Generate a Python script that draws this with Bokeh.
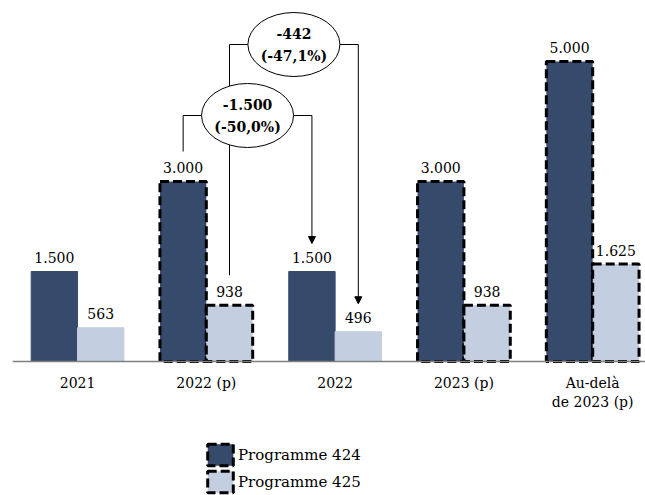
from bokeh.plotting import figure
from bokeh.models import (ColumnDataSource, Range1d, Legend, LegendItem, Arrow,
                          NormalHead, FixedTicker)
from bokeh.core.properties import value
from bokeh.embed import file_html
from bokeh.resources import INLINE

# ---------------- data ----------------
categories = ["2021", "2022 (p)", "2022", "2023 (p)", "Au-delà\nde 2023 (p)"]
prog424 = [1500, 3000, 1500, 3000, 5000]
prog425 = [563, 938, 496, 938, 1625]
dashed = [False, True, False, True, True]
series_names = ["Programme 424", "Programme 425"]

DARK = "#364A6C"
LIGHT = "#C4CEE1"
FONT = "DejaVu Serif"

def fmt(v):
    return f"{v:,}".replace(",", ".")

PX_Y = 0.06          # px per unit on y
OFF = 0.18           # half offset of bars
BW = 0.36            # bar width

p = figure(width=645, height=495, output_backend="svg", toolbar_location=None,
           x_range=Range1d(-0.505, 4.41),
           y_range=Range1d(-134 / PX_Y, 353 / PX_Y),
           min_border_left=12, min_border_right=0, min_border_top=8,
           min_border_bottom=0)
p.outline_line_color = None
p.grid.visible = False
p.yaxis.visible = False
p.background_fill_color = "white"

idx = list(range(len(categories)))

def src(vals, shift, keep):
    xs = [i + shift for i in idx if keep(i)]
    ys = [vals[i] for i in idx if keep(i)]
    return ColumnDataSource(dict(x=xs, top=ys))

renderers = {}
for vals, shift, col, name in [(prog424, -OFF, DARK, series_names[0]),
                               (prog425, OFF, LIGHT, series_names[1])]:
    s_solid = src(vals, shift, lambda i: not dashed[i])
    s_dash = src(vals, shift, lambda i: dashed[i])
    p.vbar(x="x", top="top", bottom=0, width=BW, source=s_solid,
           fill_color=col, line_color=col, line_width=1)
    r = p.vbar(x="x", top="top", bottom=0, width=BW, source=s_dash,
               fill_color=col, line_color="black", line_width=3,
               line_dash="9 4")
    renderers[name] = r
    allsrc = ColumnDataSource(dict(x=[i + shift for i in idx], top=vals,
                                   lab=[fmt(v) for v in vals]))
    p.text(x="x", y="top", text="lab", source=allsrc, text_align="center",
           text_baseline="middle", y_offset=-14, text_font=value(FONT),
           text_font_size="14px", text_color="black")

# ---------------- annotations ----------------
def ydata(px_above):
    return px_above / PX_Y

# comparisons: (series, shift, from category, to category, line height px)
comparisons = [(prog424, -OFF, 1, 2, 361 - 115),
               (prog425, OFF, 1, 2, 361 - 44)]
ells_x, ells_y, t1, t2 = [], [], [], []
for vals, shift, a, b, hpx in comparisons:
    xa, xb = a + shift, b + shift
    yl = ydata(hpx)
    ya = vals[a] + ydata(30)
    yb = vals[b] + ydata(28)
    p.line([xa, xa, xb], [ya, yl, yl], line_color="black", line_width=1)
    p.add_layout(Arrow(x_start=xb, y_start=yl, x_end=xb, y_end=yb,
                       line_color="black", line_width=1,
                       end=NormalHead(size=7, fill_color="black",
                                      line_color="black")))
    d = vals[b] - vals[a]
    pct = d / vals[a] * 100
    ells_x.append((xa + xb) / 2)
    ells_y.append(yl)
    t1.append(("-" if d < 0 else "+") + fmt(abs(d)))
    t2.append("(" + f"{pct:.1f}".replace(".", ",") + "%)")

es = ColumnDataSource(dict(x=ells_x, y=ells_y, t1=t1, t2=t2))
p.ellipse(x="x", y="y", width=92, height=64, width_units="screen",
          height_units="screen", source=es, fill_color="white",
          line_color="black", line_width=1)
p.text(x="x", y="y", text="t1", source=es, text_align="center",
       text_baseline="middle", y_offset=-11, text_font=value(FONT),
       text_font_size="14px", text_font_style="bold", text_color="black")
p.text(x="x", y="y", text="t2", source=es, text_align="center",
       text_baseline="middle", y_offset=11, text_font=value(FONT),
       text_font_size="14px", text_font_style="bold", text_color="black")

# ---------------- axis ----------------
ax = p.xaxis[0]
ax.fixed_location = 0
ax.ticker = FixedTicker(ticks=idx)
ax.major_label_overrides = {i: c for i, c in enumerate(categories)}
ax.major_tick_line_color = None
ax.minor_tick_line_color = None
ax.axis_line_color = "#7F7F7F"
ax.axis_line_width = 1.5
ax.major_label_standoff = 7
ax.major_label_text_font = FONT
ax.major_label_text_font_size = "14px"
ax.major_label_text_color = "black"

# ---------------- legend ----------------
legend = Legend(items=[LegendItem(label=n, renderers=[renderers[n]])
                       for n in series_names],
                location=(192, 0), orientation="vertical",
                glyph_width=32, glyph_height=27, spacing=0, padding=0,
                margin=0, label_standoff=2, border_line_color=None,
                background_fill_alpha=0, label_text_font=FONT,
                label_text_font_size="15px", label_text_color="black")
p.add_layout(legend)

open("out.html", "w").write(file_html(p, INLINE))
